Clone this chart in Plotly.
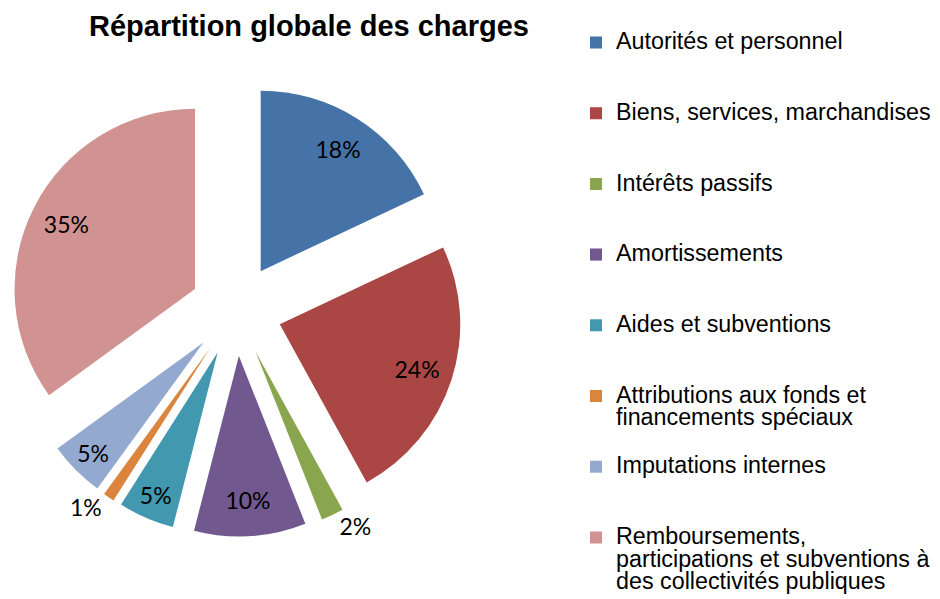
import plotly.graph_objects as go

# ---- data -------------------------------------------------------------
categories = [
    "Autorités et personnel",
    "Biens, services, marchandises",
    "Intérêts passifs",
    "Amortissements",
    "Aides et subventions",
    "Attributions aux fonds et<br>financements spéciaux",
    "Imputations internes",
    "Remboursements,<br>participations et subventions à<br>des collectivités publiques",
]
shares = [18, 24, 2, 10, 5, 1, 5, 35]
colors = ["#4573A7", "#AA4644", "#89A54E", "#71588F",
          "#4198AF", "#DB843D", "#93A9CF", "#D19392"]
label_positions = ["inside", "inside", "outside", "inside",
                   "inside", "outside", "inside", "inside"]
title_text = "Répartition globale des charges"

# ---- layout constants ---------------------------------------------------
W, H = 940, 599
OFF = 8  # page body margin offset
PULL = 0.255
CX, CY, HALF = 236 - OFF, 310 - OFF, 226.5
DOMAIN_X = [(CX - HALF) / W, (CX + HALF) / W]
DOMAIN_Y = [(H - (CY + HALF)) / H, (H - (CY - HALF)) / H]
LEG_TEXT_SIZE = 23.3
LINES_PER_ITEM = 3
ITEM_SPACING = 70.7
LEG_FONT_SIZE = (ITEM_SPACING - 3) / LINES_PER_ITEM / 1.3


def legend_label(text):
    lines = text.split("<br>")
    lines += [" "] * (LINES_PER_ITEM - len(lines))
    return "<br>".join(
        f'<span style="font-size:{LEG_TEXT_SIZE}px">{ln}</span>' for ln in lines
    )


legend_labels = [legend_label(c) for c in categories]

fig = go.Figure()

# slices
fig.add_trace(go.Pie(
    labels=legend_labels,
    values=shares,
    sort=False,
    direction="clockwise",
    rotation=0,
    pull=PULL,
    marker=dict(colors=colors, line=dict(width=0)),
    textinfo="none",
    domain=dict(x=DOMAIN_X, y=DOMAIN_Y),
    hoverinfo="skip",
    showlegend=True,
))

# percentage labels (same geometry, transparent ring to place text nearer the rim)
fig.add_trace(go.Pie(
    labels=legend_labels,
    values=shares,
    sort=False,
    direction="clockwise",
    rotation=0,
    pull=PULL,
    hole=0.6,
    marker=dict(colors=["rgba(0,0,0,0)"] * len(shares), line=dict(width=0)),
    texttemplate="%{percent:.0%}",
    textposition=label_positions,
    insidetextorientation="horizontal",
    textfont=dict(family="Lato", size=23, color="#000000"),
    domain=dict(x=DOMAIN_X, y=DOMAIN_Y),
    hoverinfo="skip",
    showlegend=False,
))

fig.update_layout(
    width=W,
    height=H,
    margin=dict(l=0, r=0, t=0, b=0, autoexpand=False),
    paper_bgcolor="white",
    plot_bgcolor="white",
    title=dict(
        text=f"<b>{title_text}</b>",
        x=(309 - OFF) / W, xanchor="center", xref="paper",
        y=1 - (25.8 - OFF) / H, yanchor="middle", yref="container",
        font=dict(family="Liberation Sans", size=29, color="#000000"),
    ),
    legend=dict(
        x=(576 - OFF) / W, xanchor="left",
        y=1 - (24.7 - OFF) / H, yanchor="top",
        valign="top",
        bgcolor="rgba(0,0,0,0)",
        borderwidth=0,
        traceorder="normal",
        font=dict(family="Liberation Sans", size=LEG_FONT_SIZE, color="#000000"),
    ),
    showlegend=True,
)

fig.write_html("out.html")
